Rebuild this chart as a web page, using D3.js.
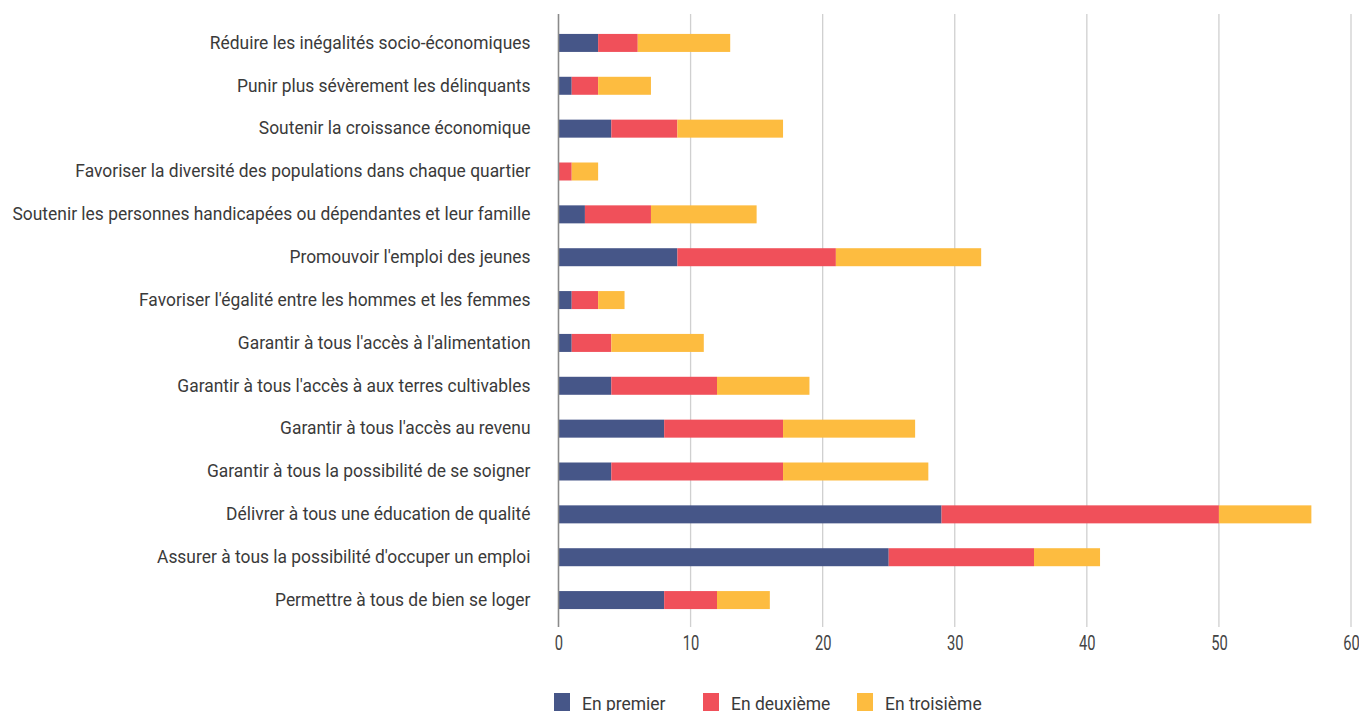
<!DOCTYPE html>
<html>
<head>
<meta charset="utf-8">
<script src="https://cdn.jsdelivr.net/npm/d3@7"></script>
<style>
  html, body { margin: 0; padding: 0; background: #fff; }
  svg { display: block; }
  text { font-family: Roboto, "Liberation Sans", sans-serif; }
</style>
</head>
<body>
<svg id="chart" width="1359" height="711"></svg>
<script>
// Priorités citées, par rang
const categories = [
  "Réduire les inégalités socio-économiques",
  "Punir plus sévèrement les délinquants",
  "Soutenir la croissance économique",
  "Favoriser la diversité des populations dans chaque quartier",
  "Soutenir les personnes handicapées ou dépendantes et leur famille",
  "Promouvoir l'emploi des jeunes",
  "Favoriser l'égalité entre les hommes et les femmes",
  "Garantir à tous l'accès à l'alimentation",
  "Garantir à tous l'accès à aux terres cultivables",
  "Garantir à tous l'accès au revenu",
  "Garantir à tous la possibilité de se soigner",
  "Délivrer à tous une éducation de qualité",
  "Assurer à tous la possibilité d'occuper un emploi",
  "Permettre à tous de bien se loger"
];
const enPremier   = [3, 1, 4, 0, 2, 9, 1, 1, 4, 8, 4, 29, 25, 8];
const enDeuxieme  = [3, 2, 5, 1, 5, 12, 2, 3, 8, 9, 13, 21, 11, 4];
const enTroisieme = [7, 4, 8, 2, 8, 11, 2, 7, 7, 10, 11, 7, 5, 4];
const seriesNames = ["En premier", "En deuxième", "En troisième"];
const seriesColors = ["#465688", "#F0505A", "#FDBC40"];
const xTicks = [0, 10, 20, 30, 40, 50, 60];

const rows = categories.map((c, i) => ({
  cat: c, "En premier": enPremier[i], "En deuxième": enDeuxieme[i], "En troisième": enTroisieme[i]
}));
const stacked = d3.stack().keys(seriesNames)(rows);

const svg = d3.select("#chart");
const H = 711;

const x = d3.scaleLinear().domain([0, 60]).range([558.5, 1351]);
const y = d3.scaleBand().domain(categories).range([21.5, H - 89.5]).paddingInner(0.58).paddingOuter(0.29);

// narrow the text horizontally, keeping its height (condensed look)
function condense(sel, k) {
  sel.each(function () {
    const w = this.getComputedTextLength();
    d3.select(this).attr("textLength", w * k).attr("lengthAdjust", "spacingAndGlyphs");
  });
}

// vertical gridlines
svg.append("g").selectAll("line").data(xTicks.filter(t => t > 0)).join("line")
  .attr("x1", d => x(d)).attr("x2", d => x(d))
  .attr("y1", 14).attr("y2", 627)
  .attr("stroke", "#d0d0d0").attr("stroke-width", 1.3);

// stacked bars
const color = d3.scaleOrdinal().domain(seriesNames).range(seriesColors);
svg.append("g").selectAll("g").data(stacked).join("g")
  .attr("fill", d => color(d.key))
  .selectAll("rect").data(d => d).join("rect")
  .attr("x", d => x(d[0]))
  .attr("width", d => x(d[1]) - x(d[0]))
  .attr("y", d => y(d.data.cat))
  .attr("height", y.bandwidth());

// zero axis line
svg.append("line")
  .attr("x1", x(0)).attr("x2", x(0)).attr("y1", 14).attr("y2", 627)
  .attr("stroke", "#8a8a8a").attr("stroke-width", 1.6);

// category labels
const yAxis = d3.axisLeft(y).tickSize(0).tickPadding(28);
const gy = svg.append("g").attr("transform", `translate(${x(0)},0)`).call(yAxis);
gy.select(".domain").remove();
const yLabels = gy.selectAll("text").attr("font-size", 18).attr("fill", "#3a3a3a")
  .style("font-family", "Roboto, sans-serif");
let maxW = 0;
yLabels.each(function () { maxW = Math.max(maxW, this.getComputedTextLength()); });
const k = 518 / maxW;
condense(yLabels, k);

// value axis
const xAxis = d3.axisBottom(x).tickValues(xTicks).tickSize(0).tickPadding(8);
const gx = svg.append("g").attr("transform", `translate(0,627)`).call(xAxis);
gx.select(".domain").remove();
const xLabels = gx.selectAll("text").attr("font-size", 21).attr("fill", "#444")
  .style("font-family", "Roboto, sans-serif");
condense(xLabels, 0.7);

// legend
const legendX = [554, 703, 857];
const lg = svg.append("g").selectAll("g").data(seriesNames).join("g")
  .attr("transform", (d, i) => `translate(${legendX[i]},693)`);
lg.append("rect").attr("width", 16).attr("height", 18).attr("fill", d => color(d));
const lgText = lg.append("text").attr("x", 28).attr("y", 17).attr("font-size", 19).attr("fill", "#3a3a3a")
  .text(d => d);
condense(lgText, k * 0.95);
</script>
</body>
</html>
